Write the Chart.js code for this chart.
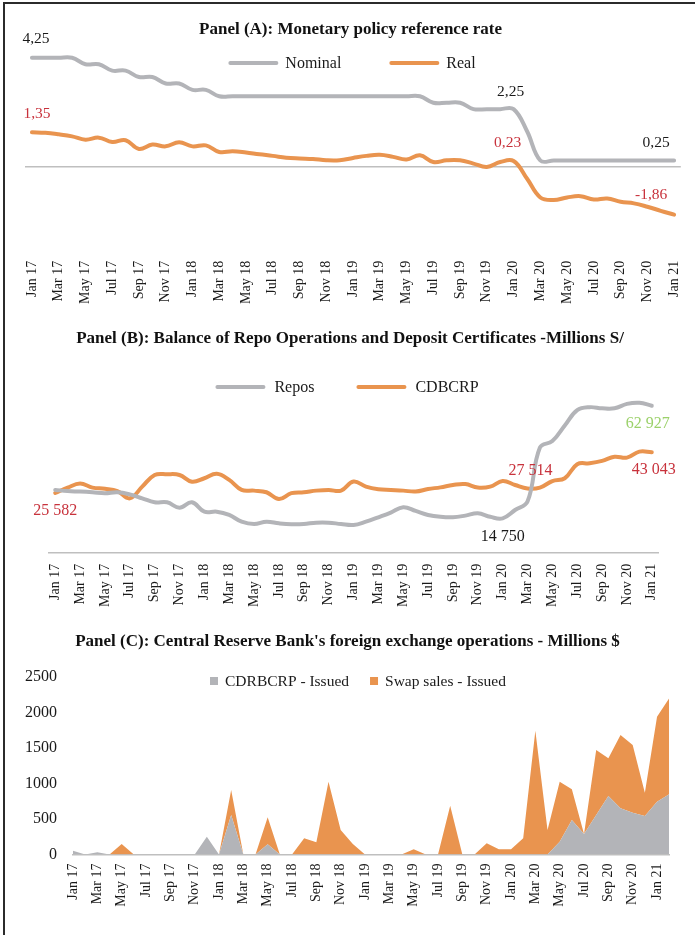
<!DOCTYPE html>
<html>
<head>
<meta charset="utf-8">
<title>Monetary policy panels</title>
<script src="https://cdn.jsdelivr.net/npm/chart.js@4.4.1/dist/chart.umd.min.js"></script>
<style>
  html, body { margin: 0; padding: 0; background: #fff; }
  body { width: 695px; height: 935px; position: relative; overflow: hidden; }
  .frame { position: absolute; left: 3px; top: 2px; width: 720px; height: 960px;
           border-left: 2px solid #2b2b2b; border-top: 2px solid #2b2b2b; }
  canvas { position: absolute; left: 0; }
</style>
</head>
<body>
<div class="frame"></div>
<canvas id="panel-a" width="695" height="308" style="top:0"></canvas>
<canvas id="panel-b" width="695" height="305" style="top:308px"></canvas>
<canvas id="panel-c" width="695" height="322" style="top:613px"></canvas>
<script>
// ---- data ----
const months = ['Jan 17','Feb 17','Mar 17','Apr 17','May 17','Jun 17','Jul 17','Aug 17','Sep 17','Oct 17','Nov 17','Dec 17',
  'Jan 18','Feb 18','Mar 18','Apr 18','May 18','Jun 18','Jul 18','Aug 18','Sep 18','Oct 18','Nov 18','Dec 18',
  'Jan 19','Feb 19','Mar 19','Apr 19','May 19','Jun 19','Jul 19','Aug 19','Sep 19','Oct 19','Nov 19','Dec 19',
  'Jan 20','Feb 20','Mar 20','Apr 20','May 20','Jun 20','Jul 20','Aug 20','Sep 20','Oct 20','Nov 20','Dec 20',
  'Jan 21'];
const monthsFx = [...months, 'Feb 21'];

// Panel A: reference rate, %
const nominalRate = [4.25, 4.25, 4.25, 4.25, 4.0, 4.0, 3.75, 3.75, 3.5, 3.5, 3.25, 3.25,
  3.0, 3.0, 2.75, 2.75, 2.75, 2.75, 2.75, 2.75, 2.75, 2.75, 2.75, 2.75,
  2.75, 2.75, 2.75, 2.75, 2.75, 2.75, 2.5, 2.5, 2.5, 2.25, 2.25, 2.25,
  2.25, 1.4, 0.25, 0.25, 0.25, 0.25, 0.25, 0.25, 0.25, 0.25, 0.25, 0.25,
  0.25];
const realRate = [1.35, 1.33, 1.27, 1.19, 1.06, 1.14, 0.97, 1.04, 0.70, 0.87, 0.80, 0.96,
  0.80, 0.84, 0.58, 0.61, 0.56, 0.49, 0.43, 0.36, 0.33, 0.31, 0.26, 0.26,
  0.35, 0.43, 0.47, 0.39, 0.29, 0.45, 0.19, 0.26, 0.26, 0.13, 0.0, 0.19,
  0.23, -0.45, -1.19, -1.29, -1.19, -1.14, -1.27, -1.23, -1.36, -1.42, -1.55, -1.71,
  -1.86];

// Panel B: balances, millions S/
const repos = [26900, 26400, 26200, 25900, 25500, 25900, 25000, 23300, 21600, 21600, 19300, 21600,
  17600, 17600, 16200, 13300, 12300, 13300, 12600, 12200, 12300, 12900, 12900, 12300,
  11900, 13300, 15200, 17200, 19500, 17900, 16200, 15400, 15200, 15900, 16900, 15400,
  14750, 18300, 21900, 45000, 47800, 54500, 61000, 62300, 61800, 61800, 63700, 64200,
  62927];
const cdbcrp = [25582, 27900, 29600, 27900, 27400, 26400, 23300, 28300, 33300, 33600, 33300, 30400,
  31900, 33800, 31200, 26900, 26600, 25900, 23000, 25500, 25900, 26600, 26900, 26600,
  30500, 28300, 27200, 26900, 26600, 26200, 27300, 28000, 29000, 29400, 27900, 28300,
  30700, 29000, 27514, 27900, 30700, 31900, 37900, 38300, 39300, 41100, 40700, 43300,
  43043];

// Panel C: FX operations, millions $
const cdrIssued = [54, 0, 30, 0, 0, 0, 0, 0, 0, 0, 0, 250,
  0, 556, 0, 0, 143, 0, 0, 0, 0, 0, 0, 0,
  0, 0, 0, 0, 0, 0, 0, 0, 0, 0, 0, 0,
  0, 0, 0, 0, 180, 486, 289, 556, 824, 650, 589, 542,
  744, 848];
const swapIssued = [0, 0, 0, 0, 148, 0, 0, 0, 0, 0, 0, 0,
  0, 352, 0, 0, 381, 0, 0, 228, 172, 1025, 345, 148,
  0, 0, 0, 0, 73, 0, 0, 688, 0, 0, 157, 73,
  73, 228, 1744, 345, 845, 432, 0, 916, 531, 1033, 953, 328,
  1197, 1352];

const GREY = '#b3b4b8';
const ORANGE = '#e9944f';
const AXIS = '#bfbfbf';
const RED = '#c8323c';
const GREEN = '#9bd16a';
const INK = '#1a1a1a';

Chart.defaults.font.family = "'Liberation Serif', 'Times New Roman', serif";
Chart.defaults.color = INK;

// legend drawn inside the plot area, like the spreadsheet original
const insideLegend = {
  id: 'insideLegend',
  afterDatasetsDraw(chart, args, opts) {
    const ctx = chart.ctx;
    ctx.save();
    ctx.font = opts.font;
    ctx.textBaseline = 'middle';
    const markW = opts.kind === 'line' ? 50 : 8;
    const items = chart.data.datasets.map(ds => ds.label);
    const widths = items.map(t => markW + opts.textGap + ctx.measureText(t).width);
    const total = widths.reduce((a, b) => a + b, 0) + opts.itemGap * (items.length - 1);
    let x = opts.cx - total / 2;
    chart.data.datasets.forEach((ds, k) => {
      if (opts.kind === 'line') {
        ctx.strokeStyle = ds.borderColor;
        ctx.lineWidth = 4;
        ctx.lineCap = 'round';
        ctx.beginPath();
        ctx.moveTo(x + 2, opts.y);
        ctx.lineTo(x + markW - 2, opts.y);
        ctx.stroke();
      } else {
        ctx.fillStyle = ds.backgroundColor;
        ctx.fillRect(x, opts.y - 4, markW, markW);
      }
      ctx.fillStyle = INK;
      ctx.fillText(ds.label, x + markW + opts.textGap, opts.y + 1);
      x += widths[k] + opts.itemGap;
    });
    ctx.restore();
  }
};

// value labels next to chosen points
const pointLabels = {
  id: 'pointLabels',
  afterDatasetsDraw(chart, args, opts) {
    const ctx = chart.ctx;
    ctx.save();
    ctx.font = opts.font;
    ctx.textAlign = 'center';
    ctx.textBaseline = 'middle';
    (opts.items || []).forEach(l => {
      const pt = chart.getDatasetMeta(l.ds).data[l.i];
      const v = chart.data.datasets[l.ds].data[l.i];
      ctx.fillStyle = l.color;
      ctx.fillText(opts.format(v), pt.x + l.dx, pt.y + l.dy);
    });
    ctx.restore();
  }
};

function everyOther(value, index) {
  return index % 2 === 0 ? this.getLabelForValue(value) : '';
}
const commaFmt = v => v.toFixed(2).replace('.', ',');
const spaceFmt = v => String(Math.round(v)).replace(/\B(?=(\d{3})+(?!\d))/g, ' ');
const titleFont = { size: 17, weight: 'bold', lineHeight: 1 };

function lineSet(label, data, color) {
  return { label, data, borderColor: color, backgroundColor: color, borderWidth: 4,
           pointRadius: 0, tension: 0.4, borderCapStyle: 'round', borderJoinStyle: 'round' };
}

// --- PANEL A ---
new Chart(document.getElementById('panel-a'), {
  type: 'line',
  data: { labels: months, datasets: [lineSet('Nominal', nominalRate, GREY), lineSet('Real', realRate, ORANGE)] },
  options: {
    responsive: false, animation: false, devicePixelRatio: 1,
    layout: { padding: { left: 14.25, right: 8.25, top: 0, bottom: 0 } },
    plugins: {
      legend: { display: false },
      tooltip: { enabled: false },
      title: { display: true, text: 'Panel (A): Monetary policy reference rate', color: '#111',
               font: titleFont, padding: { top: 21.5, bottom: 0 } },
      insideLegend: { y: 63, cx: 352, kind: 'line', font: "16px 'Liberation Serif', serif", textGap: 7, itemGap: 48 },
      pointLabels: {
        font: "15.5px 'Liberation Serif', serif", format: commaFmt,
        items: [
          { ds: 0, i: 0, dx: 4, dy: -19, color: INK },
          { ds: 1, i: 0, dx: 5, dy: -18, color: RED },
          { ds: 0, i: 36, dx: -3, dy: -17, color: INK },
          { ds: 0, i: 48, dx: -18, dy: -18, color: INK },
          { ds: 1, i: 36, dx: -6, dy: -18, color: RED },
          { ds: 1, i: 48, dx: -23, dy: -20, color: RED }
        ]
      }
    },
    scales: {
      x: { offset: true, grid: { display: false, drawTicks: false }, border: { display: false },
           ticks: { autoSkip: false, minRotation: 90, maxRotation: 90, padding: 4, font: { size: 14 }, callback: everyOther },
           afterFit: s => { s.height = 308 - 256.8; } },
      y: { min: -3.5, max: 5, ticks: { display: false, stepSize: 0.5 },
           grid: { drawTicks: false, lineWidth: 1.5, color: c => c.tick && c.tick.value === 0 ? AXIS : 'rgba(0,0,0,0)' },
           border: { display: false }, afterFit: s => { s.width = 11; } }
    }
  },
  plugins: [insideLegend, pointLabels]
});

// --- PANEL B ---
new Chart(document.getElementById('panel-b'), {
  type: 'line',
  data: { labels: months, datasets: [lineSet('Repos', repos, GREY), lineSet('CDBCRP', cdbcrp, ORANGE)] },
  options: {
    responsive: false, animation: false, devicePixelRatio: 1,
    layout: { padding: { left: 42, right: 37, top: 0, bottom: 0 } },
    plugins: {
      legend: { display: false },
      tooltip: { enabled: false },
      title: { display: true, text: 'Panel (B): Balance of Repo Operations and Deposit Certificates -Millions S/', color: '#111',
               font: titleFont, padding: { top: 22.5, bottom: 18.3 } },
      insideLegend: { y: 79, cx: 347, kind: 'line', font: "16px 'Liberation Serif', serif", textGap: 9, itemGap: 42 },
      pointLabels: {
        font: "16px 'Liberation Serif', serif", format: spaceFmt,
        items: [
          { ds: 1, i: 0, dx: 0, dy: 18, color: RED },
          { ds: 0, i: 36, dx: 0, dy: 18, color: INK },
          { ds: 1, i: 38, dx: 3, dy: -18, color: RED },
          { ds: 0, i: 48, dx: -4, dy: 18, color: GREEN },
          { ds: 1, i: 48, dx: 2, dy: 18, color: RED }
        ]
      }
    },
    scales: {
      x: { offset: true, grid: { display: false, drawTicks: false }, border: { display: true, color: AXIS, width: 1.5 },
           ticks: { autoSkip: false, minRotation: 90, maxRotation: 90, padding: 11, font: { size: 14 }, callback: everyOther },
           afterFit: s => { s.height = 305 - 244.8; } },
      y: { min: 0, max: 80000, ticks: { display: false }, grid: { display: false, drawTicks: false },
           border: { display: false }, afterFit: s => { s.width = 7; } }
    }
  },
  plugins: [insideLegend, pointLabels]
});

// --- PANEL C ---
new Chart(document.getElementById('panel-c'), {
  type: 'line',
  data: {
    labels: monthsFx,
    datasets: [
      { label: 'CDRBCRP - Issued', data: cdrIssued, backgroundColor: GREY, borderColor: GREY, borderWidth: 0,
        pointRadius: 0, tension: 0, fill: 'origin' },
      { label: 'Swap sales - Issued', data: swapIssued, backgroundColor: ORANGE, borderColor: ORANGE, borderWidth: 0,
        pointRadius: 0, tension: 0, fill: '-1' }
    ]
  },
  options: {
    responsive: false, animation: false, devicePixelRatio: 1,
    layout: { padding: { left: 24, right: 24, top: 0, bottom: 0 } },
    plugins: {
      legend: { display: false },
      tooltip: { enabled: false },
      filler: { propagate: false },
      title: { display: true, text: "Panel (C): Central Reserve Bank's foreign exchange operations - Millions $", color: '#111',
               font: titleFont, padding: { top: 20.5, bottom: 26.5 } },
      insideLegend: { y: 68, cx: 358, kind: 'box', font: "15.5px 'Liberation Serif', serif", textGap: 7, itemGap: 21 }
    },
    scales: {
      x: { offset: false, grid: { display: false, drawTicks: false }, border: { display: true, color: AXIS, width: 1.5 },
           ticks: { autoSkip: false, minRotation: 90, maxRotation: 90, padding: 9, font: { size: 14 }, callback: everyOther },
           afterFit: s => { s.height = 322 - 241.5; } },
      y: { stacked: true, min: 0, max: 2500,
           ticks: { stepSize: 500, padding: 16, font: { size: 16 }, callback: v => String(v) },
           grid: { display: false, drawTicks: false }, border: { display: false },
           afterFit: s => { s.width = 49; } }
    }
  },
  plugins: [insideLegend]
});
</script>
</body>
</html>
